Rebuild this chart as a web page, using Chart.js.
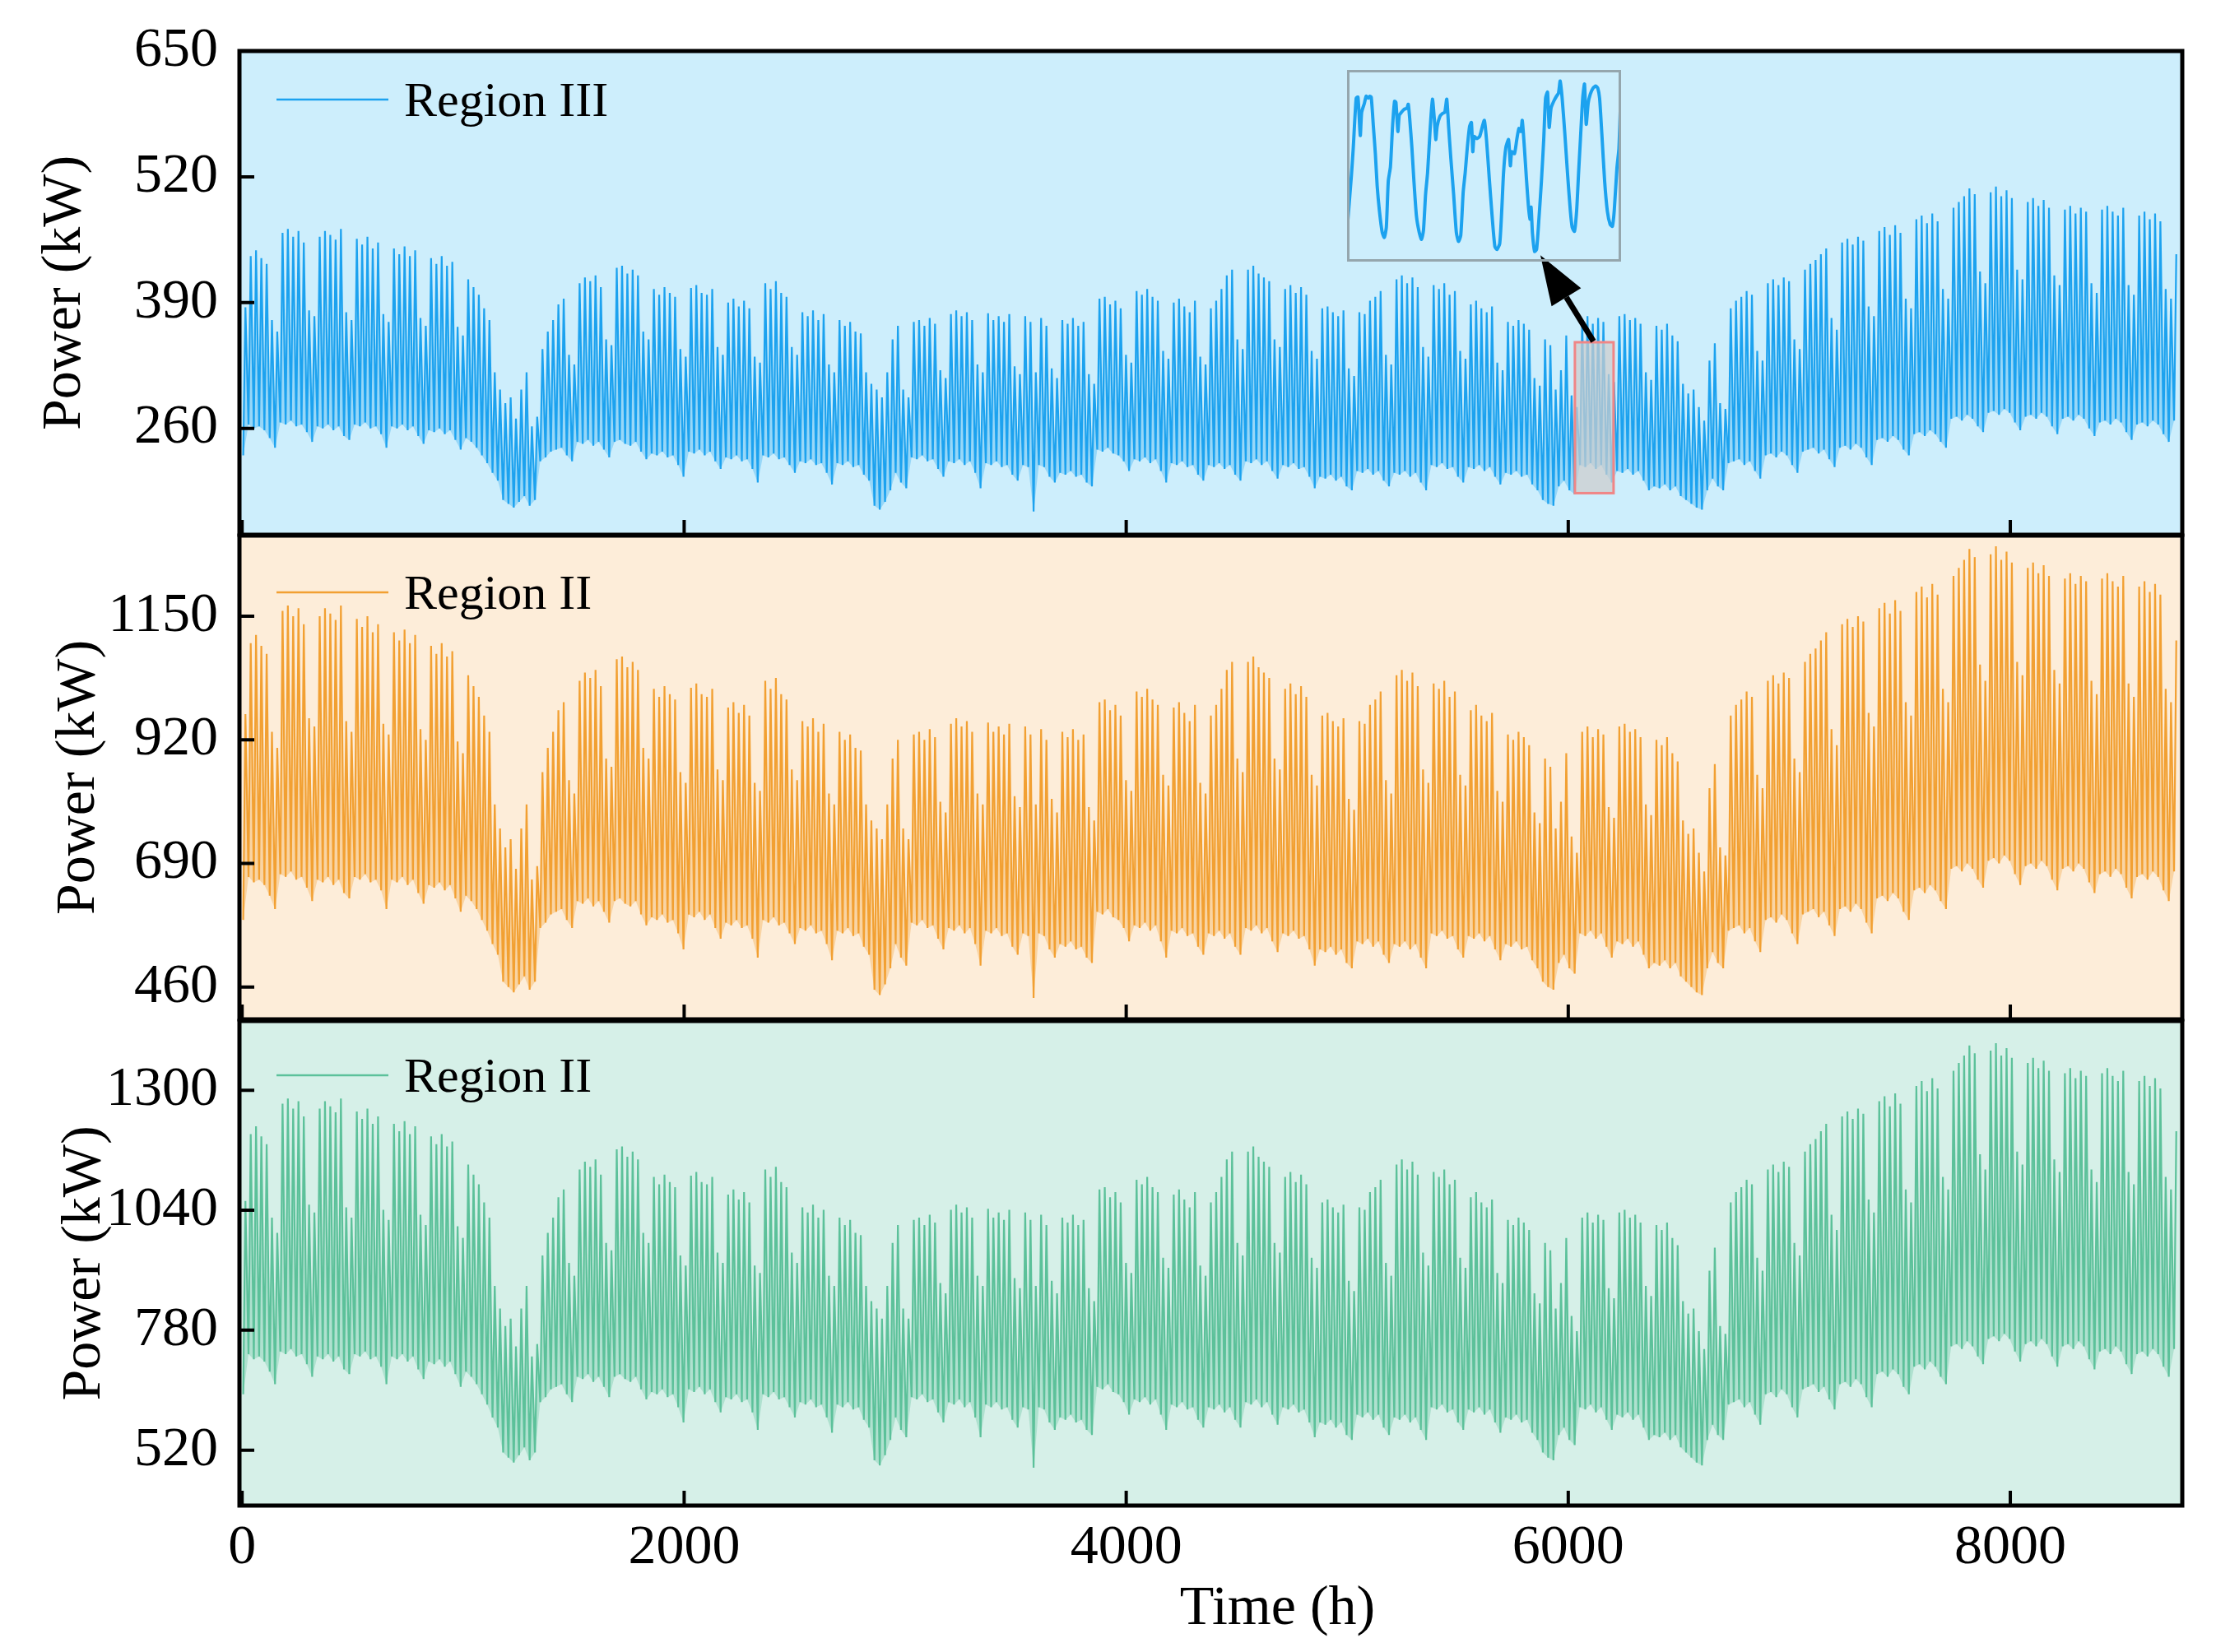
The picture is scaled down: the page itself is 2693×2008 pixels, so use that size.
<!DOCTYPE html>
<html>
<head>
<meta charset="utf-8">
<title>Regional power, hourly</title>
<script src="https://cdn.jsdelivr.net/npm/chart.js@4.4.1/dist/chart.umd.min.js"></script>
<style>
  html, body { margin: 0; padding: 0; background: #fff; }
  #wrap { position: relative; width: 2693px; height: 2008px; overflow: hidden; }
  canvas { position: absolute; left: 0; }
</style>
</head>
<body>
<div id="wrap">
  <canvas id="c1" width="2693" height="660" style="top:0px"></canvas>
  <canvas id="c2" width="2693" height="610" style="top:640px"></canvas>
  <canvas id="c3" width="2693" height="778" style="top:1230px"></canvas>
  <canvas id="c4" width="333" height="233" style="left:1637px;top:85px"></canvas>
</div>
<script>
// daily peak / daily trough (kW), one row per week

const dayHighIII = [
  385,438,444,436,430,372,360, 462,466,458,464,452,382,376, 458,464,460,455,466,380,372,
  456,450,458,446,452,378,370, 446,440,448,438,444,374,366, 436,430,438,428,432,365,356,
  414,406,398,384,372,318,300, 286,292,270,300,318,262,272, 342,360,372,388,394,336,326,
  410,416,412,418,406,352,346, 426,428,420,424,418,360,352, 404,398,406,400,396,342,334,
  405,408,400,398,404,344,336, 390,394,386,392,384,334,328, 410,404,412,400,396,344,336,
  380,376,382,372,378,326,318, 372,366,370,360,358,318,306, 300,292,318,352,366,300,292,
  370,372,366,374,368,320,312, 378,382,376,380,372,326,318, 379,372,376,370,378,324,316,
  376,370,318,374,366,322,312, 372,368,374,366,370,316,306, 394,396,388,392,384,336,328,
  402,398,404,396,392,340,332, 390,394,386,380,392,334,326, 384,392,404,418,424,352,342,
  424,428,420,416,412,352,344, 404,408,400,406,398,340,332, 384,386,380,376,382,322,314,
  380,378,392,396,402,336,326, 414,418,410,416,406,344,334, 408,404,410,398,402,340,332,
  388,392,384,380,386,328,320, 370,366,372,368,362,312,304, 352,346,300,320,356,294,282,
  372,376,368,374,370,316,308, 376,378,372,374,368,318,310, 366,362,368,356,350,306,296,
  300,282,268,330,348,286,280, 384,392,396,402,398,340,330, 410,414,408,416,412,352,342,
  424,430,434,440,446,374,362, 452,456,450,458,454,386,376, 464,468,460,470,462,394,384,
  476,480,472,482,474,404,394, 488,494,500,508,502,422,410, 504,510,500,506,498,424,414,
  494,498,490,496,488,418,408, 486,490,482,488,484,410,400, 486,490,484,480,488,408,398,
  480,484,476,482,474,404,394, 440
];
const dayLowIII = [
  232,264,260,262,258,250,240, 266,264,268,262,264,256,246, 262,260,264,258,262,252,248,
  264,262,266,260,262,254,240, 262,260,264,258,262,252,244, 258,256,260,254,258,248,238,
  250,246,240,232,224,214,206, 186,182,178,184,190,180,186, 226,230,236,238,240,232,226,
  246,244,248,242,246,238,230, 246,248,244,242,246,236,228, 234,232,236,230,232,222,210,
  236,234,238,232,236,226,218, 230,228,232,226,228,218,204, 232,230,234,228,230,222,214,
  226,224,228,222,224,214,202, 224,222,226,220,222,212,206, 180,176,184,196,214,204,198,
  230,228,232,226,228,218,210, 226,224,228,222,226,214,198, 224,222,226,220,222,212,206,
  222,220,174,222,220,210,204, 214,212,216,210,212,204,200, 238,236,240,234,232,226,216,
  228,226,230,224,228,216,204, 224,222,226,220,222,212,206, 222,220,224,218,222,212,206,
  226,224,228,222,226,216,208, 222,220,224,218,220,210,198, 210,208,212,206,210,200,196,
  216,214,218,212,216,206,200, 214,212,216,210,214,204,196, 222,220,224,218,220,210,204,
  220,218,222,216,220,210,202, 214,212,216,210,212,202,196, 186,182,180,200,206,196,192,
  222,220,224,218,222,212,204, 216,214,218,212,216,206,196, 200,198,202,196,200,190,186,
  182,178,176,196,208,200,196, 224,226,228,222,226,216,208, 232,234,230,236,232,222,214,
  236,238,240,234,238,228,220, 240,242,238,244,240,230,222, 248,250,246,252,248,238,232,
  254,256,252,258,254,246,240, 270,272,268,274,270,262,256, 276,278,274,280,276,266,258,
  272,274,270,276,272,262,254, 270,272,268,274,270,260,252, 266,268,264,270,266,256,248,
  264,266,262,268,264,254,246, 268
];

const dayHighII = [
  968,1100,1115,1095,1080,935,905, 1160,1170,1150,1165,1135,960,945, 1150,1165,1155,1143,1170,955,935,
  1145,1130,1150,1120,1135,950,930, 1120,1105,1125,1100,1115,940,920, 1095,1080,1100,1075,1085,917,895,
  1040,1020,1000,965,935,800,755, 720,735,680,755,800,660,685, 860,905,935,975,990,845,820,
  1030,1045,1035,1050,1020,885,870, 1070,1075,1055,1065,1050,905,885, 1015,1000,1020,1005,995,860,840,
  1017,1025,1005,1000,1015,865,845, 980,990,970,985,965,840,825, 1030,1015,1035,1005,995,865,845,
  955,945,960,935,950,820,800, 935,920,930,905,900,800,770, 755,735,800,885,920,755,735,
  930,935,920,940,925,805,785, 950,960,945,955,935,820,800, 952,935,945,930,950,815,795,
  945,930,800,940,920,810,785, 935,925,940,920,930,795,770, 990,995,975,985,965,845,825,
  1010,1000,1015,995,985,855,835, 980,990,970,955,985,840,820, 965,985,1015,1050,1065,885,860,
  1065,1075,1055,1045,1035,885,865, 1015,1025,1005,1020,1000,855,835, 965,970,955,945,960,810,790,
  955,950,985,995,1010,845,820, 1040,1050,1030,1045,1020,865,840, 1025,1015,1030,1000,1010,855,835,
  975,985,965,955,970,825,805, 930,920,935,925,910,785,765, 885,870,755,805,895,740,710,
  935,945,925,940,930,795,775, 945,950,935,940,925,800,780, 920,910,925,895,880,770,745,
  755,710,675,830,875,720,705, 965,985,995,1010,1000,855,830, 1030,1040,1025,1045,1035,885,860,
  1065,1080,1090,1105,1120,940,910, 1135,1145,1130,1150,1140,970,945, 1165,1175,1155,1180,1160,990,965,
  1195,1205,1185,1210,1190,1015,990, 1225,1240,1255,1275,1260,1060,1030, 1265,1280,1255,1270,1250,1065,1040,
  1240,1250,1230,1245,1225,1050,1025, 1220,1230,1210,1225,1215,1030,1005, 1220,1230,1215,1205,1225,1025,1000,
  1205,1215,1195,1210,1190,1015,990, 1105
];
const dayLowII = [
  585,665,655,660,650,630,605, 670,665,675,660,665,645,620, 660,655,665,650,660,635,625,
  665,660,670,655,660,640,605, 660,655,665,650,660,635,615, 650,645,655,640,650,625,600,
  630,620,605,585,565,540,520, 470,460,450,465,480,455,470, 570,580,595,600,605,585,570,
  620,615,625,610,620,600,580, 620,625,615,610,620,595,575, 590,585,595,580,585,560,530,
  595,590,600,585,595,570,550, 580,575,585,570,575,550,515, 585,580,590,575,580,560,540,
  570,565,575,560,565,540,510, 565,560,570,555,560,535,520, 455,445,465,495,540,515,500,
  580,575,585,570,575,550,530, 570,565,575,560,570,540,500, 565,560,570,555,560,535,520,
  560,555,440,560,555,530,515, 540,535,545,530,535,515,505, 600,595,605,590,585,570,545,
  575,570,580,565,575,545,515, 565,560,570,555,560,535,520, 560,555,565,550,560,535,520,
  570,565,575,560,570,545,525, 560,555,565,550,555,530,500, 530,525,535,520,530,505,495,
  545,540,550,535,545,520,505, 540,535,545,530,540,515,495, 560,555,565,550,555,530,515,
  555,550,560,545,555,530,510, 540,535,545,530,535,510,495, 470,460,455,505,520,495,485,
  560,555,565,550,560,535,515, 545,540,550,535,545,520,495, 505,500,510,495,505,480,470,
  460,450,445,495,525,505,495, 565,570,575,560,570,545,525, 585,590,580,595,585,560,540,
  595,600,605,590,600,575,555, 605,610,600,615,605,580,560, 625,630,620,635,625,600,585,
  640,645,635,650,640,620,605, 680,685,675,690,680,660,645, 695,700,690,705,695,670,650,
  685,690,680,695,685,660,640, 680,685,675,690,680,655,635, 670,675,665,680,670,645,625,
  665,670,660,675,665,640,620, 675
];

const dayHighIIb = [
  1060,1205,1222,1200,1183,1024,991, 1271,1282,1260,1276,1243,1052,1035, 1260,1276,1265,1252,1282,1046,1024,
  1254,1238,1260,1227,1243,1041,1019, 1227,1211,1233,1205,1222,1030,1008, 1200,1183,1205,1178,1189,1005,980,
  1139,1117,1096,1057,1024,876,827, 789,805,745,827,876,723,750, 942,991,1024,1068,1085,926,898,
  1128,1145,1134,1150,1117,969,953, 1172,1178,1156,1167,1150,991,969, 1112,1096,1117,1101,1090,942,920,
  1115,1123,1101,1096,1112,948,926, 1074,1085,1063,1079,1057,920,904, 1128,1112,1134,1101,1090,948,926,
  1046,1035,1052,1024,1041,898,876, 1024,1008,1019,991,986,876,843, 827,805,876,969,1008,827,805,
  1019,1024,1008,1030,1013,882,860, 1041,1052,1035,1046,1024,898,876, 1043,1024,1035,1019,1041,893,871,
  1035,1019,876,1030,1008,887,860, 1024,1013,1030,1008,1019,871,843, 1085,1090,1068,1079,1057,926,904,
  1106,1096,1112,1090,1079,937,915, 1074,1085,1063,1046,1079,920,898, 1057,1079,1112,1150,1167,969,942,
  1167,1178,1156,1145,1134,969,948, 1112,1123,1101,1117,1096,937,915, 1057,1063,1046,1035,1052,887,865,
  1046,1041,1079,1090,1106,926,898, 1139,1150,1128,1145,1117,948,920, 1123,1112,1128,1096,1106,937,915,
  1068,1079,1057,1046,1063,904,882, 1019,1008,1024,1013,997,860,838, 969,953,827,882,980,811,778,
  1024,1035,1013,1030,1019,871,849, 1035,1041,1024,1030,1013,876,854, 1008,997,1013,980,964,843,816,
  827,778,739,909,959,789,772, 1057,1079,1090,1106,1096,937,909, 1128,1139,1123,1145,1134,969,942,
  1167,1183,1194,1211,1227,1030,997, 1243,1254,1238,1260,1249,1063,1035, 1276,1287,1265,1293,1271,1085,1057,
  1309,1320,1298,1326,1304,1112,1085, 1342,1359,1375,1397,1380,1161,1128, 1386,1402,1375,1391,1370,1167,1139,
  1359,1370,1348,1364,1342,1150,1123, 1337,1348,1326,1342,1331,1128,1101, 1337,1348,1331,1320,1342,1123,1096,
  1320,1331,1309,1326,1304,1112,1085, 1211
];
const dayLowIIb = [
  641,728,717,723,712,690,663, 734,728,739,723,728,706,679, 723,717,728,712,723,695,685,
  728,723,734,717,723,701,663, 723,717,728,712,723,695,674, 712,706,717,701,712,685,657,
  690,679,663,641,619,591,569, 515,504,493,509,526,498,515, 624,635,652,657,663,641,624,
  679,674,685,668,679,657,635, 679,685,674,668,679,652,630, 646,641,652,635,641,613,580,
  652,646,657,641,652,624,602, 635,630,641,624,630,602,564, 641,635,646,630,635,613,591,
  624,619,630,613,619,591,558, 619,613,624,608,613,586,569, 498,487,509,542,591,564,548,
  635,630,641,624,630,602,580, 624,619,630,613,624,591,548, 619,613,624,608,613,586,569,
  613,608,482,613,608,580,564, 591,586,597,580,586,564,553, 657,652,663,646,641,624,597,
  630,624,635,619,630,597,564, 619,613,624,608,613,586,569, 613,608,619,602,613,586,569,
  624,619,630,613,624,597,575, 613,608,619,602,608,580,548, 580,575,586,569,580,553,542,
  597,591,602,586,597,569,553, 591,586,597,580,591,564,542, 613,608,619,602,608,580,564,
  608,602,613,597,608,580,558, 591,586,597,580,586,558,542, 515,504,498,553,569,542,531,
  613,608,619,602,613,586,564, 597,591,602,586,597,569,542, 553,548,558,542,553,526,515,
  504,493,487,542,575,553,542, 619,624,630,613,624,597,575, 641,646,635,652,641,613,591,
  652,657,663,646,657,630,608, 663,668,657,674,663,635,613, 685,690,679,695,685,657,641,
  701,706,695,712,701,679,663, 745,750,739,756,745,723,706, 761,767,756,772,761,734,712,
  750,756,745,761,750,723,701, 745,750,739,756,745,717,695, 734,739,728,745,734,706,685,
  728,734,723,739,728,701,679, 739
];

// zoomed window (inset), hours and kW
const insetHour = [
  6030.0,6032.9,6034.1,6036.0,6037.2,6038.7,6039.6,6041.4,6042.6,6044.1,6045.0,6045.9,6047.3,6048.6,6049.8,
  6051.3,6053.1,6054.5,6055.8,6057.1,6058.5,6059.9,6061.2,6062.1,6063.4,6064.3,6065.7,6067.5,6069.3,6070.2,
  6071.1,6072.6,6073.8,6075.6,6077.4,6078.9,6080.2,6081.6,6082.9,6084.7,6086.1,6087.4,6088.3,6089.2,6091.0,
  6092.8,6094.2,6095.5,6096.7,6098.2,6100.0,6101.8,6103.2,6104.7,6106.3,6107.6,6109.0,6110.5,6111.7,6112.6,
  6113.5,6115.3,6117.1,6118.9,6120.2,6121.6,6123.4,6125.3,6127.1,6128.5,6130.3,6131.6,6132.8,6134.3,6136.1,
  6137.3,6138.2,6140.0,6141.5,6142.9,6144.2,6145.1,6146.5,6147.8,6149.1,6150.1,6150.9,6151.8,6153.2,6154.5,
  6155.9,6157.7,6159.2,6160.4,6161.7,6162.8,6164.0,6165.8,6167.6,6168.9,6170.0,6171.3,6173.1,6174.9,6176.7,
  6177.9,6179.4,6180.8,6182.1,6183.3,6184.8,6186.0,6187.1,6188.4,6189.8,6191.6,6193.4,6194.7,6195.9,6197.4,
  6199.2,6201.0,6202.8,6204.3,6205.5,6207.3,6208.6,6210.0
];
const insetPower = [
  231,286,313,362,363,325,348,357,364,362,364,363,334,307,275,
  250,229,224,234,280,294,334,359,358,329,345,348,351,352,356,
  343,313,283,245,229,222,231,267,288,334,361,340,321,334,344,
  347,348,361,334,302,267,229,220,226,269,288,313,334,338,309,
  324,322,324,334,340,321,283,245,215,212,218,250,288,313,321,
  295,309,307,321,332,329,340,313,283,256,242,254,228,210,212,
  239,280,321,362,368,333,352,359,364,367,379,362,326,286,250,
  234,230,250,288,321,362,376,336,357,366,372,374,372,362,326,
  280,250,237,235,250,293,312,375
];

const xTicks = [0, 2000, 4000, 6000, 8000];
const yTicksIII = [260, 390, 520, 650];
const yTicksII = [460, 690, 920, 1150];
const yTicksIIb = [520, 780, 1040, 1300];

const FONT = '"Liberation Serif", "Times New Roman", serif';
Chart.defaults.color = "#000";
Chart.defaults.font.family = FONT;

// one low point and one high point per day
function dailyPoints(lows, highs) {
  const pts = [];
  lows.forEach((lo, d) => {
    pts.push({ x: d * 24 + 5, y: lo });
    pts.push({ x: d * 24 + 15, y: highs[d] });
  });
  return pts;
}
function troughPoints(lows) {
  return lows.map((lo, d) => ({ x: d * 24 + 5, y: lo }));
}

const panelPlugin = {
  id: "panel",
  beforeDraw(chart, args, o) {
    const { ctx, chartArea: a } = chart;
    ctx.save();
    ctx.fillStyle = o.bg;
    ctx.fillRect(a.left, a.top, a.right - a.left, a.bottom - a.top);
    ctx.restore();
  },
  afterDatasetsDraw(chart, args, o) {
    const { ctx, chartArea: a } = chart;
    const ds = chart.data.datasets[0];
    ctx.save();
    // legend inside the frame
    const ly = a.top + o.legendY;
    ctx.strokeStyle = ds.borderColor;
    ctx.lineWidth = 2.5;
    ctx.beginPath();
    ctx.moveTo(a.left + 45, ly);
    ctx.lineTo(a.left + 181, ly);
    ctx.stroke();
    ctx.fillStyle = "#000";
    ctx.font = "60px " + FONT;
    ctx.textAlign = "left";
    ctx.textBaseline = "alphabetic";
    ctx.fillText(ds.label, a.left + 200, ly + 20);
    ctx.restore();
  },
  afterDraw(chart, args, o) {
    const { ctx, chartArea: a, scales } = chart;
    ctx.save();
    ctx.strokeStyle = "#000";
    ctx.lineWidth = 4;
    ctx.beginPath();
    o.yTicks.forEach((v) => {
      const y = scales.y.getPixelForValue(v);
      ctx.moveTo(a.left, y);
      ctx.lineTo(a.left + 18, y);
    });
    xTicks.forEach((v) => {
      const x = scales.x.getPixelForValue(v);
      ctx.moveTo(x, a.bottom);
      ctx.lineTo(x, a.bottom - 18);
    });
    ctx.stroke();
    ctx.lineWidth = 5;
    ctx.strokeRect(a.left, a.top, a.right - a.left, a.bottom - a.top);
    if (o.xTitle) {
      ctx.fillStyle = "#000";
      ctx.font = "68px " + FONT;
      ctx.textAlign = "center";
      ctx.textBaseline = "alphabetic";
      ctx.fillText(o.xTitle, (a.left + a.right) / 2 + 81, a.bottom + 144);
    }
    ctx.restore();
  },
};

// red box around the zoomed window and the arrow to the inset
const zoomMarkPlugin = {
  id: "zoomMark",
  afterDatasetsDraw(chart) {
    const { ctx, scales } = chart;
    const xs = scales.x, ys = scales.y;
    const x1 = xs.getPixelForValue(6030), x2 = xs.getPixelForValue(6205);
    const y1 = ys.getPixelForValue(349), y2 = ys.getPixelForValue(193);
    ctx.save();
    ctx.fillStyle = "rgba(205,205,205,0.72)";
    ctx.fillRect(x1, y1, x2 - x1, y2 - y1);
    ctx.strokeStyle = "#f08686";
    ctx.lineWidth = 3;
    ctx.strokeRect(x1, y1, x2 - x1, y2 - y1);

    const tx = xs.getPixelForValue(6114), ty = ys.getPixelForValue(350);
    const hx = xs.getPixelForValue(5874), hy = ys.getPixelForValue(439);
    const ang = Math.atan2(hy - ty, hx - tx);
    const headLen = 60, headW = 21;
    const bx = hx - headLen * Math.cos(ang), by = hy - headLen * Math.sin(ang);
    ctx.strokeStyle = "#000";
    ctx.fillStyle = "#000";
    ctx.lineWidth = 7;
    ctx.beginPath();
    ctx.moveTo(tx, ty);
    ctx.lineTo(bx, by);
    ctx.stroke();
    ctx.beginPath();
    ctx.moveTo(hx, hy);
    ctx.lineTo(bx + headW * Math.sin(ang), by - headW * Math.cos(ang));
    ctx.lineTo(bx - headW * Math.sin(ang), by + headW * Math.cos(ang));
    ctx.closePath();
    ctx.fill();
    ctx.restore();
  },
};

const panels = [
  { id: "c1", label: "Region III", lows: dayLowIII, highs: dayHighIII, color: "#1ca2ef", band: "rgba(28,162,239,0.3)", bg: "#cdeefc",
    yMin: 150, yMax: 650, yTicks: yTicksIII, titlePad: 45, legendY: 59, pad: { top: 62, bottom: 10 }, bottomAxis: false },
  { id: "c2", label: "Region II", lows: dayLowII, highs: dayHighII, color: "#f2a032", band: "rgba(242,160,50,0.32)", bg: "#fdedd9",
    yMin: 400, yMax: 1300, yTicks: yTicksII, titlePad: 62, legendY: 69, pad: { top: 11, bottom: 11 }, bottomAxis: false },
  { id: "c3", label: "Region II", lows: dayLowIIb, highs: dayHighIIb, color: "#5cc19a", band: "rgba(92,193,154,0.32)", bg: "#d6f0e8",
    yMin: 400, yMax: 1450, yTicks: yTicksIIb, titlePad: 69, legendY: 66, pad: { top: 11, bottom: 0 }, bottomAxis: true },
];

const charts = panels.map((p) => {
  const extra = p.id === "c1" ? [panelPlugin, zoomMarkPlugin] : [panelPlugin];
  return new Chart(document.getElementById(p.id), {
    type: "line",
    data: {
      datasets: [
        {
          label: p.label,
          data: dailyPoints(p.lows, p.highs),
          borderColor: p.color,
          backgroundColor: p.band,
          borderWidth: 2.2,
          pointRadius: 0,
          tension: 0,
          fill: 1,
        },
        {
          label: "troughs",
          data: troughPoints(p.lows),
          borderColor: "rgba(0,0,0,0)",
          borderWidth: 0,
          pointRadius: 0,
          tension: 0,
          fill: false,
        },
      ],
    },
    options: {
      responsive: false,
      animation: false,
      events: [],
      layout: { padding: { top: p.pad.top, bottom: p.pad.bottom, left: 0, right: 41 } },
      scales: {
        x: {
          type: "linear",
          min: -12,
          max: 8778,
          display: p.bottomAxis,
          grid: { display: false, drawTicks: false },
          border: { display: false },
          ticks: { font: { size: 68 }, padding: 11, maxRotation: 0, callback: (v) => String(v) },
          afterBuildTicks: (s) => { s.ticks = xTicks.map((v) => ({ value: v })); },
          afterFit: (s) => {
            if (p.bottomAxis) s.height = 178;
            s.paddingLeft = 0;
            s.paddingRight = 0;
          },
        },
        y: {
          min: p.yMin,
          max: p.yMax,
          grid: { display: false, drawTicks: false },
          border: { display: false },
          ticks: { font: { size: 68 }, padding: 26, callback: (v) => String(v) },
          afterBuildTicks: (s) => { s.ticks = p.yTicks.map((v) => ({ value: v })); },
          afterFit: (s) => {
            s.width = 291;
            s.paddingTop = 0;
            s.paddingBottom = 0;
          },
          title: {
            display: true,
            text: "Power (kW)",
            font: { size: 68, lineHeight: 1 },
            padding: { top: p.titlePad, bottom: 0 },
          },
        },
      },
      plugins: {
        legend: { display: false },
        tooltip: { enabled: false },
        filler: { propagate: false },
        panel: { bg: p.bg, legendY: p.legendY, yTicks: p.yTicks, xTitle: p.bottomAxis ? "Time (h)" : null },
      },
    },
    plugins: extra,
  });
});

// inset: the boxed week, hourly
new Chart(document.getElementById("c4"), {
  type: "line",
  data: {
    datasets: [
      {
        data: insetHour.map((h, i) => ({ x: h, y: insetPower[i] })),
        borderColor: "#1ca2ef",
        borderWidth: 4,
        pointRadius: 0,
        tension: 0.2,
      },
    ],
  },
  options: {
    responsive: false,
    animation: false,
    events: [],
    layout: { padding: 0 },
    scales: {
      x: { type: "linear", min: 6030, max: 6210, display: false },
      y: { min: 200, max: 390, display: false },
    },
    plugins: { legend: { display: false }, tooltip: { enabled: false } },
  },
  plugins: [
    {
      id: "insetFrame",
      afterDraw(chart) {
        const { ctx, width, height } = chart;
        ctx.save();
        ctx.strokeStyle = "#95a6ad";
        ctx.lineWidth = 3;
        ctx.strokeRect(1.5, 1.5, width - 3, height - 3);
        ctx.restore();
      },
    },
  ],
});
</script>
</body>
</html>
